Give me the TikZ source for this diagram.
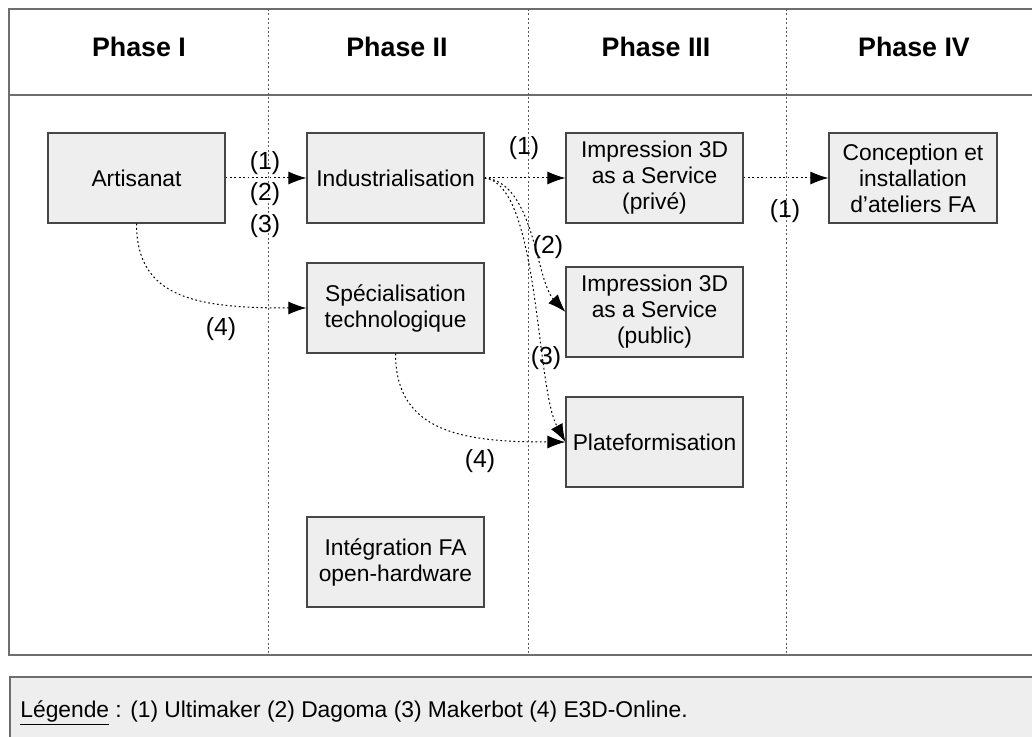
\documentclass[tikz,border=0pt]{standalone}
\usepackage{fontspec}
\setmainfont{Liberation Sans}
\usepackage{tikz}
\usetikzlibrary{arrows.meta}
\usetikzlibrary{positioning}
\definecolor{boxfill}{RGB}{238, 238, 238}
\definecolor{boxline}{RGB}{70, 70, 70}
\definecolor{frameline}{RGB}{110, 110, 110}
\definecolor{sepline}{RGB}{90, 90, 90}

\begin{document}
\begin{tikzpicture}[x=0.5pt, y=-0.5pt,
        phasebox/.style={draw=boxline, fill=boxfill, line width=0.55pt, align=center,
                         minimum width=88.5pt, minimum height=45pt, inner sep=1pt,
                         font=\fontsize{11.4}{13}\selectfont},
        phasehead/.style={font=\fontsize{13.4}{15}\selectfont\bfseries},
        flowlabel/.style={font=\fontsize{12.4}{14}\selectfont, inner sep=0pt},
        flow/.style={line width=0.5pt, dash pattern=on 0.9pt off 1.3pt,
                     -{Latex[length=9pt, width=6.5pt]}}]
            \useasboundingbox (0,0) rectangle (1032,737);
            % cadre des phases
            \draw[frameline, line width=0.75pt] (9,9) rectangle (1044,655);
            \draw[frameline, line width=0.75pt] (9,95) -- (1044,95);
            \foreach \xsep in {268, 528, 786}
                \draw[sepline, line width=0.5pt, dash pattern=on 1pt off 1.2pt] (\xsep,9) -- (\xsep,655);
            \node[phasehead] (headI)   at (139,47) {Phase I};
            \node[phasehead] (headII)  at (397,47) {Phase II};
            \node[phasehead] (headIII) at (656,47) {Phase III};
            \node[phasehead] (headIV)  at (914,47) {Phase IV};
            % etapes
            \node[phasebox] (artisanat)         at (136.5,178) {Artisanat};
            \node[phasebox] (industrialisation) at (395.5,178) {Industrialisation};
            \node[phasebox] (specialisation)    at (395.5,308) {Spécialisation\\technologique};
            \node[phasebox] (integration)       at (395.5,562) {Intégration FA\\open-hardware};
            \node[phasebox] (prive)             at (654.5,178) {Impression 3D\\as a Service\\(privé)};
            \node[phasebox] (public)            at (654.5,312) {Impression 3D\\as a Service\\(public)};
            \node[phasebox] (plateforme)        at (654.5,442) {Plateformisation};
            \node[phasebox, minimum width=84pt] (conception) at (913,178) {Conception et\\installation\\d’ateliers FA};
            % trajectoires
            \draw[flow] (artisanat.east) -- (industrialisation.west);
            \draw[flow] (industrialisation.east) -- (prive.west);
            \draw[flow] (prive.east) -- (conception.west);
            \draw[flow] (industrialisation.east) .. controls +(50,4) and +(-30,-32) .. (public.west);
            \draw[flow] (industrialisation.east) .. controls +(55,6) and +(-30,-55) .. (plateforme.west);
            \draw[flow] (artisanat.south) .. controls +(0,75) and +(-110,0) .. (specialisation.west);
            \draw[flow] (specialisation.south) .. controls +(0,80) and +(-100,0) .. (plateforme.west);
            % entreprises
            \node[flowlabel] (labAa) at (265,163) {(1)};
            \node[flowlabel] (labAb) at (265,194) {(2)};
            \node[flowlabel] (labAc) at (265,226) {(3)};
            \node[flowlabel] (labBa) at (524,148) {(1)};
            \node[flowlabel] (labBb) at (548,247) {(2)};
            \node[flowlabel] (labBc) at (546,358) {(3)};
            \node[flowlabel] (labCd) at (221,329) {(4)};
            \node[flowlabel] (labDd) at (480,461) {(4)};
            \node[flowlabel] (labEa) at (785,211) {(1)};
            % legende
            \draw[frameline, fill=boxfill, line width=0.75pt] (10,677) rectangle (1044,760);
            \node[anchor=base west, inner sep=0pt, font=\fontsize{11.4}{13}\selectfont] (legende) at (20,717)
                {\underline{Légende} : (1) Ultimaker (2) Dagoma (3) Makerbot (4) E3D-Online.};
        \end{tikzpicture}
\end{document}
